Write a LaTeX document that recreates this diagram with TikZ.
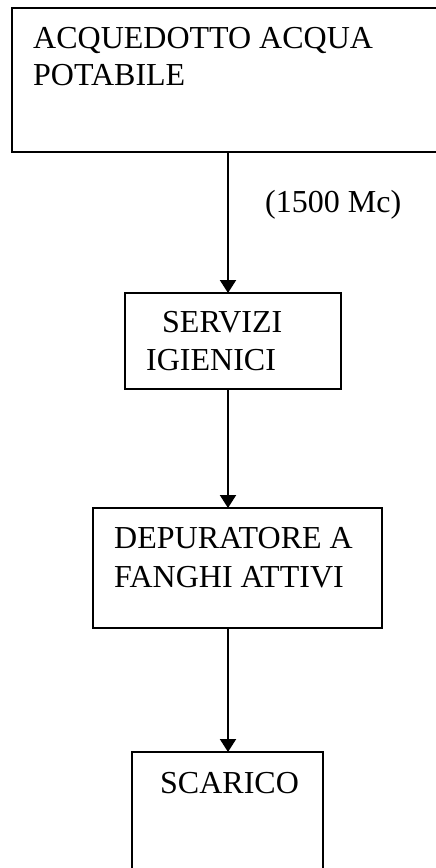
\documentclass[tikz,border=0pt]{standalone}
\usepackage{fontspec}
\setmainfont{Liberation Serif}
\usetikzlibrary{arrows.meta}

\tikzset{
	blocco/.style={draw, line width=2pt, rectangle, inner sep=0pt, outer sep=0pt},
	testo/.style={anchor=base west, inner sep=0pt},
	flusso/.style={line width=2pt, -{Triangle[width=16pt,length=13pt]}}
}

\begin{document}
\begin{tikzpicture}[x=1pt, y=-1pt, font=\fontsize{32}{37}\selectfont]
		\useasboundingbox (0, 0) rectangle (436, 868);

		\node[blocco, minimum width=434pt, minimum height=144pt] (acquedotto) at (229, 80) {};
		\node[blocco, minimum width=216pt, minimum height=96pt] (servizi) at (233, 341) {};
		\node[blocco, minimum width=289pt, minimum height=120pt] (depuratore) at (237.5, 568) {};
		\node[blocco, minimum width=191pt, minimum height=130pt] (scarico) at (227.5, 817) {};

		\node[testo] (t1) at (33, 48) {ACQUEDOTTO ACQUA};
		\node[testo] (t2) at (33, 85) {POTABILE};
		\node[testo] (t3) at (162, 332) {SERVIZI};
		\node[testo] (t4) at (146, 370) {IGIENICI};
		\node[testo] (t5) at (114, 548) {DEPURATORE A};
		\node[testo] (t6) at (114, 587) {FANGHI ATTIVI};
		\node[testo] (t7) at (160, 793) {SCARICO};
		\node[testo] (portata) at (265, 212) {(1500 Mc)};

		\coordinate (asse) at (228, 0);
		\draw[flusso] (acquedotto.south -| asse) -- (servizi.north -| asse);
		\draw[flusso] (servizi.south -| asse) -- (depuratore.north -| asse);
		\draw[flusso] (depuratore.south -| asse) -- (scarico.north -| asse);
	\end{tikzpicture}
\end{document}
